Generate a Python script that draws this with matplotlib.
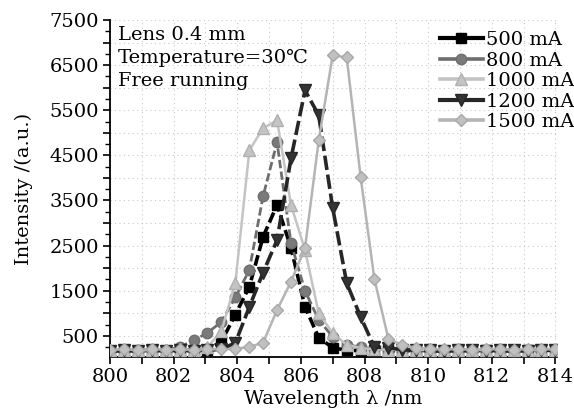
import matplotlib
matplotlib.use("Agg")
import matplotlib.pyplot as plt
from matplotlib.ticker import MultipleLocator, FuncFormatter
from matplotlib.lines import Line2D

wavelength = [800.00, 800.44, 800.88, 801.31, 801.75, 802.19, 802.63, 803.06, 803.50, 803.94,
              804.38, 804.81, 805.25, 805.69, 806.13, 806.56, 807.00, 807.44, 807.88, 808.31,
              808.75, 809.19, 809.63, 810.06, 810.50, 810.94, 811.38, 811.81, 812.25, 812.69,
              813.13, 813.56, 814.00]

i500 = [160, 175, 165, 180, 170, 185, 175, 190, 370, 970, 1590, 2690, 3400, 2450, 1140, 460, 235,
        180, 170, 185, 175, 165, 180, 170, 160, 175, 165, 180, 170, 160, 175, 165, 170]
i800 = [170, 185, 175, 190, 180, 250, 400, 560, 810, 1350, 1960, 3590, 4790, 2550, 1500, 850, 480,
        300, 250, 200, 190, 180, 185, 175, 180, 170, 185, 175, 180, 170, 185, 175, 180]
i1000 = [180, 190, 175, 185, 195, 180, 190, 250, 600, 1670, 4610, 5100, 5280, 3400, 2400, 1000, 560,
         300, 230, 200, 190, 185, 195, 180, 190, 185, 175, 190, 180, 185, 190, 180, 185]
i1200 = [165, 175, 170, 180, 170, 175, 165, 180, 200, 345, 1140, 1900, 2620, 4435, 5940, 5390, 3330,
         1670, 915, 250, 235, 190, 180, 175, 170, 180, 175, 170, 180, 175, 170, 180, 175]
i1500 = [190, 200, 185, 205, 195, 200, 190, 205, 200, 210, 255, 345, 1070, 1700, 2450, 4830, 6720,
         6670, 4010, 1760, 430, 300, 230, 210, 200, 205, 195, 210, 200, 195, 205, 200, 210]

labels = ["500 mA", "800 mA", "1000 mA", "1200 mA", "1500 mA"]
annot = ["Lens 0.4 mm", "Temperature=30\u2103", "Free running"]

plt.rcParams['font.family'] = ['DejaVu Serif', 'DejaVu Sans']
plt.rcParams['mathtext.fontset'] = 'dejavuserif'
FS = 14

fig = plt.figure(figsize=(5.74, 4.08), dpi=100)
ax = fig.add_axes([110/574, 1-357/408, 447/574, 337/408])

styles = [
    dict(color='black', lw=2.6, dashes=(3, 1.2), marker='s', ms=7, mfc='black', mec='black'),
    dict(color='#6e6e6e', lw=2.0, dashes=(3, 1.2), marker='o', ms=7.5, mfc='#7a7a7a', mec='#6e6e6e'),
    dict(color='#c4c4c4', lw=1.8, linestyle='-', marker='^', ms=8, mfc='#c4c4c4', mec='#b0b0b0'),
    dict(color='#262626', lw=2.6, dashes=(4, 1.3), marker='v', ms=8.5, mfc='#333333', mec='#262626'),
    dict(color='#b4b4b4', lw=1.8, linestyle='-', marker='D', ms=6.5, mfc='#c0c0c0', mec='#a8a8a8'),
]
series = [i500, i800, i1000, i1200, i1500]
proxies = []
for ys, st, lab in zip(series, styles, labels):
    ax.plot(wavelength, ys, label=lab, zorder=3, **st)
    pst = {k: v for k, v in st.items() if k not in ('dashes', 'linestyle')}
    pst['lw'] = 3.0 if st['color'] in ('black', '#262626') else 2.6
    proxies.append(Line2D([], [], linestyle='-', **pst))

ax.set_xlim(800, 814.05)
ax.set_ylim(30, 7500)

ax.xaxis.set_major_locator(MultipleLocator(1))
ax.xaxis.set_major_formatter(FuncFormatter(lambda v, p: f"{int(round(v))}" if int(round(v)) % 2 == 0 else ""))
ax.yaxis.set_major_locator(MultipleLocator(500))
ax.yaxis.set_minor_locator(MultipleLocator(250))
ax.yaxis.set_major_formatter(FuncFormatter(lambda v, p: f"{int(round(v))}" if int(round(v)) % 1000 == 500 else ""))

ax.tick_params(axis='both', which='major', direction='out', length=5, width=1.2, labelsize=FS, colors='black')
ax.tick_params(axis='y', which='minor', direction='out', length=3.5, width=1.0)
ax.tick_params(axis='x', pad=3)
ax.tick_params(axis='y', pad=3)

for s in ['top', 'right']:
    ax.spines[s].set_visible(False)
for s in ['left', 'bottom']:
    ax.spines[s].set_linewidth(1.3)

ax.grid(True, which='major', linestyle=(0, (1, 3)), color='#c8c8c8', linewidth=0.8, zorder=0)
ax.set_axisbelow(True)

ax.set_xlabel("Wavelength \u03bb /nm", fontsize=FS, labelpad=3)
ax.set_ylabel("Intensity /(a.u.)", fontsize=FS, labelpad=12)

for i, t in enumerate(annot):
    ax.text(118/574, 1-(35 + 23*i)/408, t, transform=fig.transFigure, fontsize=FS,
            va='center', ha='left')

leg = fig.legend(handles=proxies, labels=labels, loc='upper right', bbox_to_anchor=(1.0, 1-31/408),
                 bbox_transform=fig.transFigure, frameon=False, fontsize=FS, borderpad=0,
                 borderaxespad=0, labelspacing=0.13, handlelength=2.2, handletextpad=0.15)

fig.savefig("out.png", dpi=100)
